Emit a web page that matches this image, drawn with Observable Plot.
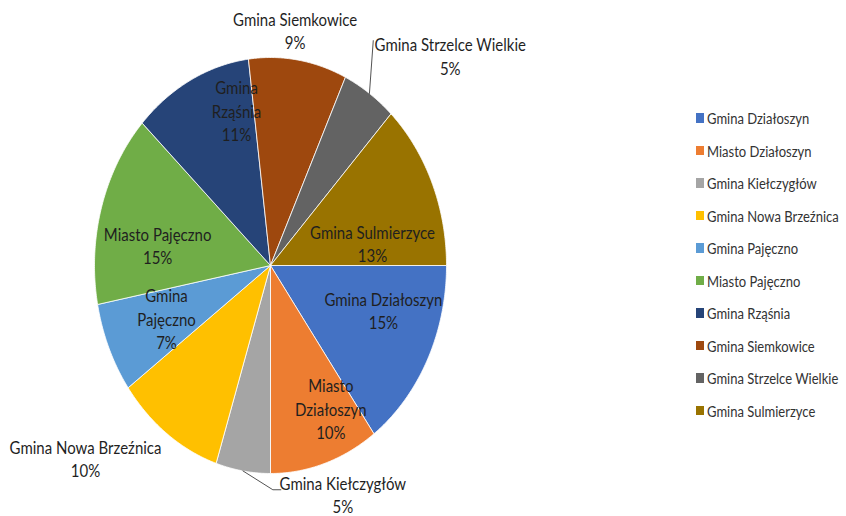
<!DOCTYPE html>
<html><head><meta charset="utf-8">
<script src="https://cdn.jsdelivr.net/npm/d3@7"></script>
<script src="https://cdn.jsdelivr.net/npm/@observablehq/plot@0.6"></script>
<style>
body{margin:0;background:#fff;font-family:Lato,sans-serif;}
#wrap{position:relative;width:846px;height:516px;}
#legend{position:absolute;left:696px;top:0;}
.item{position:absolute;left:0;white-space:nowrap;font-size:13px;color:#333;display:flex;align-items:center;height:18px;line-height:18px;}
.sw{width:8px;height:9.5px;margin-right:3px;flex:none;}
.lt{display:inline-block;transform:scaleY(1.15);}
</style></head><body><div id="wrap"><div id="chart"></div><div id="legend"></div></div>
<script>
// ---- data ----
const names = ["Gmina Działoszyn","Miasto Działoszyn","Gmina Kiełczygłów","Gmina Nowa Brzeźnica","Gmina Pajęczno","Miasto Pajęczno","Gmina Rząśnia","Gmina Siemkowice","Gmina Strzelce Wielkie","Gmina Sulmierzyce"];
const values = [15,10,5,10,7,15,11,9,5,13];
const colors = ["#4472C4","#ED7D31","#A5A5A5","#FFC000","#5B9BD5","#70AD47","#264478","#9E480E","#636363","#997300"];
// label wrapping as shown on the chart
const labelLines = [["Gmina Działoszyn"],["Miasto","Działoszyn"],["Gmina Kiełczygłów"],["Gmina Nowa Brzeźnica"],["Gmina","Pajęczno"],["Miasto Pajęczno"],["Gmina","Rząśnia"],["Gmina Siemkowice"],["Gmina Strzelce Wielkie"],["Gmina Sulmierzyce"]];

// ---- layout (not data) ----
const RX = 176, RY = 208, CX = 270, CY = 265, SY = 1.15;
const labelLayout = [
  {r:0.65, dx:11, dy:-17},
  {r:0.65, dx:25, dy:14},
  {r:1.15, dx:104, dy:-8, leader:[[-70,-4],[-62,-4]]},
  {r:1.15, dx:-66, dy:-1},
  {r:0.65, dx:1, dy:-1},
  {r:0.65, dx:-3, dy:17},
  {r:0.65, dx:18, dy:-35},
  {r:1.15, dx:-7, dy:1},
  {r:1.15, dx:66, dy:-12, leader:[[-77,-15]]},
  {r:0.65, dx:-3, dy:31}
];

const total = d3.sum(values);
let cum = 0;
const arcs = names.map((name, i) => {
  const a0 = cum / total * 360; cum += values[i];
  const a1 = cum / total * 360;
  return {name, value: values[i], a0, a1, mid: (a0 + a1) / 2, i};
});
const rad = d => d * Math.PI / 180;
const pts = arcs.flatMap(a => {
  const p = [{name: a.name, x: 0, y: 0}];
  const n = Math.max(2, Math.ceil((a.a1 - a.a0) * 2));
  for (let k = 0; k <= n; k++) {
    const t = rad(a.a0 + (a.a1 - a.a0) * k / n);
    p.push({name: a.name, x: Math.cos(t), y: -Math.sin(t)});
  }
  p.push({name: a.name, x: 0, y: 0});
  return p;
});
const labels = arcs.map(a => {
  const L = labelLayout[a.i], t = rad(a.mid);
  return {
    x: Math.cos(t) * L.r + L.dx / RX,
    y: -Math.sin(t) * L.r - L.dy / RY,
    text: [...labelLines[a.i], Math.round(a.value / total * 100) + "%"].join("\n")
  };
});
const leaders = arcs.flatMap(a => {
  const L = labelLayout[a.i];
  if (!L.leader) return [];
  const t = rad(a.mid);
  const ax = Math.cos(t) * L.r + L.dx / RX, ay = -Math.sin(t) * L.r - L.dy / RY;
  const p = [{id: a.name, x: Math.cos(t), y: -Math.sin(t)}];
  L.leader.forEach(([ox, oy]) => p.push({id: a.name, x: ax + ox / RX, y: ay - oy / RY}));
  return p;
});

const chart = Plot.plot({
  width: 846, height: 516,
  margin: 0,
  x: {domain: [-1, 1], range: [CX - RX, CX + RX], axis: null},
  y: {domain: [-1, 1], range: [CY + RY, CY - RY], axis: null},
  color: {domain: names, range: colors},
  style: {background: "white"},
  marks: [
    Plot.line(pts, {x: "x", y: "y", z: "name", fill: "name", stroke: "white", strokeWidth: 0.8, curve: "linear"}),
    Plot.line(leaders, {x: "x", y: "y", z: "id", stroke: "#404040", strokeWidth: 0.9}),
    Plot.text(labels, {x: "x", y: "y", text: "text", fontSize: 15, fontFamily: "Lato", fill: "#1f1f1f", lineHeight: 1.36, textAnchor: "middle", lineAnchor: "middle"})
  ]
});
// stretch label glyphs vertically like the reference
d3.select(chart).selectAll("text").each(function() {
  const tr = this.getAttribute("transform");
  if (tr) this.setAttribute("transform", tr + ` scale(1,${SY})`);
});
document.getElementById("chart").appendChild(chart);

const legend = document.getElementById("legend");
names.forEach((n, i) => {
  const it = document.createElement("div");
  it.className = "item";
  it.style.top = (118 + i * 32.5 - 9) + "px";
  it.innerHTML = `<span class="sw" style="background:${colors[i]}"></span><span class="lt">${n}</span>`;
  legend.appendChild(it);
});
</script></body></html>
